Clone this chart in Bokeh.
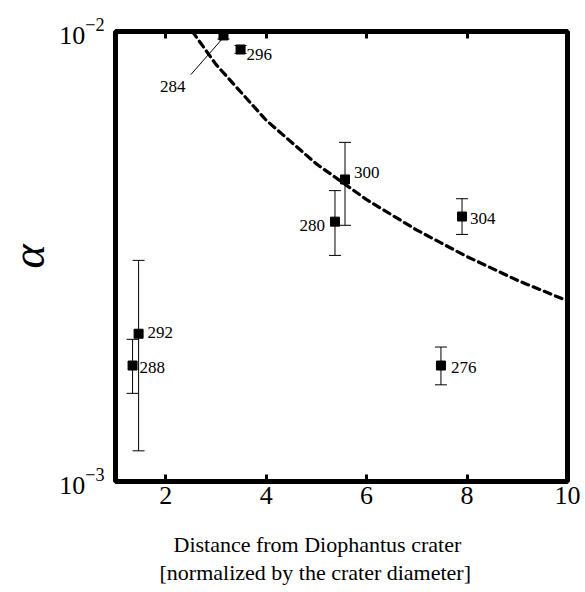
from bokeh.plotting import figure
from bokeh.models import (ColumnDataSource, FixedTicker, LinearAxis, Whisker,
                          TeeHead, Title, LogTickFormatter)
from bokeh.core.properties import value
from bokeh.embed import file_html
from bokeh.resources import INLINE

# ---- data ----
labels = ["276", "280", "284", "288", "292", "296", "300", "304"]
dist = [7.48, 5.37, 3.15, 1.34, 1.46, 3.49, 5.57, 7.90]
alpha = [0.00181, 0.00378, 0.00980, 0.00181, 0.00213, 0.00912, 0.00469, 0.00388]
alpha_hi = [0.00199, 0.00443, 0.01000, 0.00207, 0.00310, 0.00931, 0.00567, 0.00425]
alpha_lo = [0.00164, 0.00318, 0.00962, 0.00157, 0.00117, 0.00894, 0.00371, 0.00354]

curve_x = [2.53, 3.0, 4.0, 5.0, 6.0, 7.0, 8.0, 9.0, 10.0]
curve_y = [0.0100, 0.00845, 0.00635, 0.00508, 0.00423, 0.00362, 0.00316, 0.00280, 0.00252]

leader_x = [2.50, 3.15]
leader_y = [0.00802, 0.00970]

x_ticks = [2, 4, 6, 8, 10]
y_ticks = [0.001, 0.01]

x_title_1 = "Distance from Diophantus crater"
x_title_2 = "[normalized by the crater diameter]"

# label placement (pixels, styling only)
label_dx = [10, -10, -38, 7, 9, 6, 9, 8]
label_dy = [2, 4, 51, 2, -1, 5, -7, 2]
label_align = ["left", "right", "right", "left", "left", "left", "left", "left"]

FONT = "Liberation Serif"

p = figure(width=585, height=592, x_range=(1, 10), y_range=(0.001, 0.01),
           y_axis_type="log", output_backend="svg", toolbar_location=None,
           min_border_left=115, min_border_right=18, min_border_top=31,
           min_border_bottom=111)
p.grid.visible = False
p.outline_line_color = "black"
p.outline_line_width = 5
p.background_fill_color = "white"
p.border_fill_color = "white"

# x axis (bottom)
xa = p.xaxis[0]
xa.ticker = FixedTicker(ticks=x_ticks, minor_ticks=[])
xa.axis_line_color = None
xa.major_tick_in = 7
xa.major_tick_out = 0
xa.major_tick_line_width = 3
xa.major_tick_line_color = "black"
xa.minor_tick_line_color = None
xa.major_label_text_font = FONT
xa.major_label_text_font_size = "26px"
xa.major_label_text_color = "black"
xa.major_label_standoff = 5

# invisible spacer between tick labels and the two-line title
spacer = LinearAxis(ticker=FixedTicker(ticks=x_ticks, minor_ticks=[]))
spacer.axis_line_color = None
spacer.major_tick_line_color = "white"
spacer.minor_tick_line_color = None
spacer.major_tick_in = 0
spacer.major_tick_out = 22
spacer.minor_tick_out = 0
spacer.major_label_text_color = None
spacer.major_label_text_font_size = "1px"
spacer.major_label_standoff = 0
p.add_layout(spacer, "below")

# top axis (ticks only)
top = LinearAxis(ticker=FixedTicker(ticks=x_ticks, minor_ticks=[]))
top.axis_line_color = None
top.major_tick_in = 7
top.major_tick_out = 0
top.major_tick_line_width = 3
top.major_tick_line_color = "black"
top.minor_tick_line_color = None
top.major_label_text_color = None
top.major_label_standoff = 0
p.add_layout(top, "above")

# y axis
ya = p.yaxis[0]
ya.ticker = FixedTicker(ticks=y_ticks, minor_ticks=[])
ya.formatter = LogTickFormatter()
ya.axis_line_color = None
ya.major_tick_in = 0
ya.major_tick_out = 0
ya.minor_tick_line_color = None
ya.major_label_text_font = FONT
ya.major_label_text_font_size = "26px"
ya.major_label_text_color = "black"
ya.major_label_standoff = 11
ya.axis_label = "α"
ya.axis_label_text_font = FONT
ya.axis_label_text_font_style = "italic"
ya.axis_label_text_font_size = "46px"
ya.axis_label_text_color = "black"
ya.axis_label_standoff = 2

# x axis title: two lines, centred slightly left of the frame centre
t1 = Title(text=x_title_1, align="left", offset=58, text_font=FONT,
           text_font_size="22px", text_font_style="normal",
           text_color="black", standoff=2)
t2 = Title(text=x_title_2, align="left", offset=44, text_font=FONT,
           text_font_size="22px", text_font_style="normal",
           text_color="black", standoff=0)
p.add_layout(t1, "below")
p.add_layout(t2, "below")

src = ColumnDataSource(dict(x=dist, y=alpha, hi=alpha_hi, lo=alpha_lo,
                            lab=labels, dx=label_dx, dy=label_dy,
                            align=label_align))

# fitted curve
p.line(curve_x, curve_y, line_color="black", line_width=3.2,
       line_dash="7 5", line_cap="round")

# error bars
p.add_layout(Whisker(base="x", upper="hi", lower="lo", source=src,
                     dimension="height", line_width=1, line_color="black",
                     upper_head=TeeHead(size=12, line_width=1),
                     lower_head=TeeHead(size=12, line_width=1)))

# points
p.scatter("x", "y", source=src, marker="square", size=9, color="black")

# leader line for 284
p.line(leader_x, leader_y, line_color="black", line_width=1)

# labels
p.text("x", "y", text="lab", source=src, x_offset="dx", y_offset="dy",
       text_align="align", text_baseline="middle",
       text_font=value(FONT), text_font_size="17px", text_color="black")

open("out.html", "w").write(file_html(p, INLINE))
